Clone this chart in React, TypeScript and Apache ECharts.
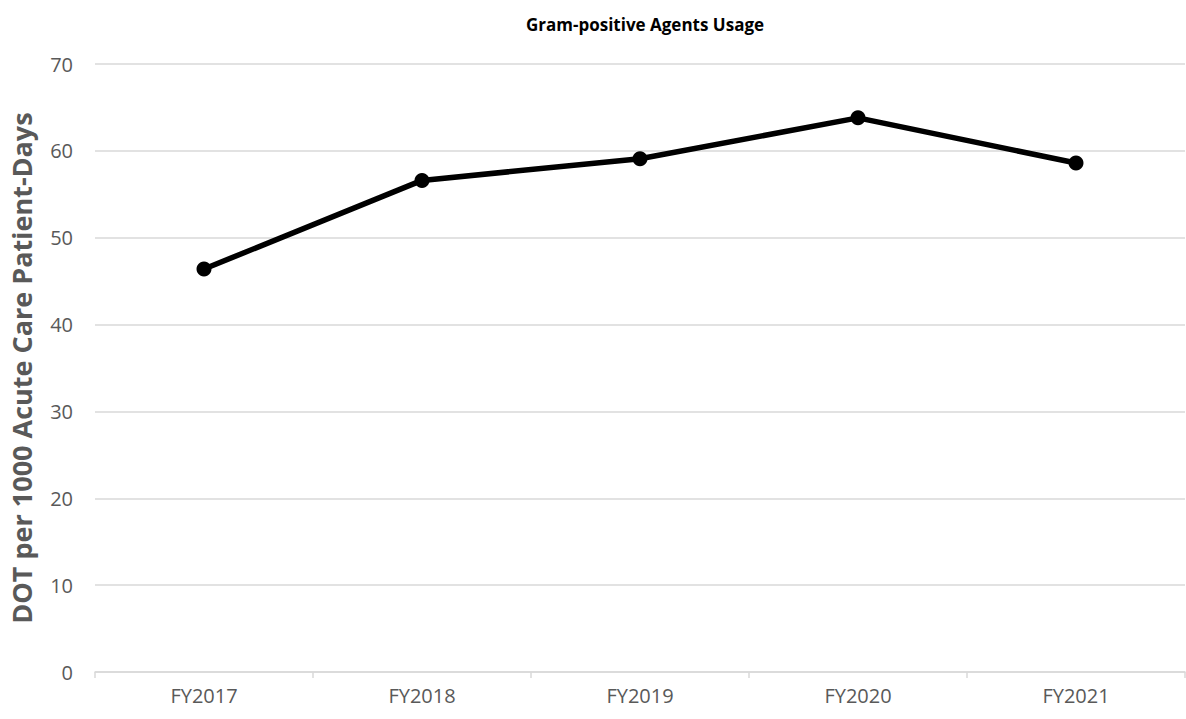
import React, { useEffect, useRef } from "react";
import * as echarts from "echarts";

const categories = ["FY2017", "FY2018", "FY2019", "FY2020", "FY2021"];
const usage = [46.4, 56.6, 59.1, 63.8, 58.6];
const yTicks = { min: 0, max: 70, interval: 10 };
const titleText = "Gram-positive Agents Usage";
const yAxisTitle = "DOT per 1000 Acute Care Patient-Days";

export default function App() {
  const ref = useRef<HTMLDivElement>(null);
  useEffect(() => {
    if (!ref.current) return;
    const chart = echarts.init(ref.current, null, { renderer: "svg" });
    const font = "'Open Sans', 'Liberation Sans', sans-serif";
    chart.setOption({
      animation: false,
      title: {
        text: titleText,
        left: 640,
        textAlign: "center",
        top: 11,
        textStyle: { fontFamily: font, fontSize: 17, fontWeight: "bold", color: "#000" },
      },
      grid: { left: 94, right: 1, top: 64, bottom: 47, containLabel: false },
      xAxis: {
        type: "category",
        data: categories,
        boundaryGap: true,
        axisLine: { lineStyle: { color: "#d9d9d9", width: 1.5 } },
        axisTick: { show: true, length: 6, lineStyle: { color: "#d9d9d9", width: 1.5 } },
        axisLabel: { color: "#595959", fontFamily: font, fontSize: 20, margin: 13 },
        splitLine: { show: false },
      },
      yAxis: {
        type: "value",
        min: yTicks.min,
        max: yTicks.max,
        interval: yTicks.interval,
        name: yAxisTitle,
        nameLocation: "middle",
        nameGap: 60,
        nameTextStyle: { fontFamily: font, fontSize: 27, fontWeight: "bold", color: "#595959" },
        axisLine: { show: false },
        axisTick: { show: false },
        axisLabel: { color: "#595959", fontFamily: font, fontSize: 20, margin: 22 },
        splitLine: { lineStyle: { color: "#d9d9d9", width: 1.5 } },
      },
      series: [
        {
          type: "line",
          data: usage,
          symbol: "circle",
          symbolSize: 15,
          lineStyle: { color: "#000", width: 5.5 },
          itemStyle: { color: "#000" },
        },
      ],
    });
    return () => chart.dispose();
  }, []);
  return <div ref={ref} style={{ width: 1186, height: 719, position: "absolute", left: 0, top: 0 }} />;
}
